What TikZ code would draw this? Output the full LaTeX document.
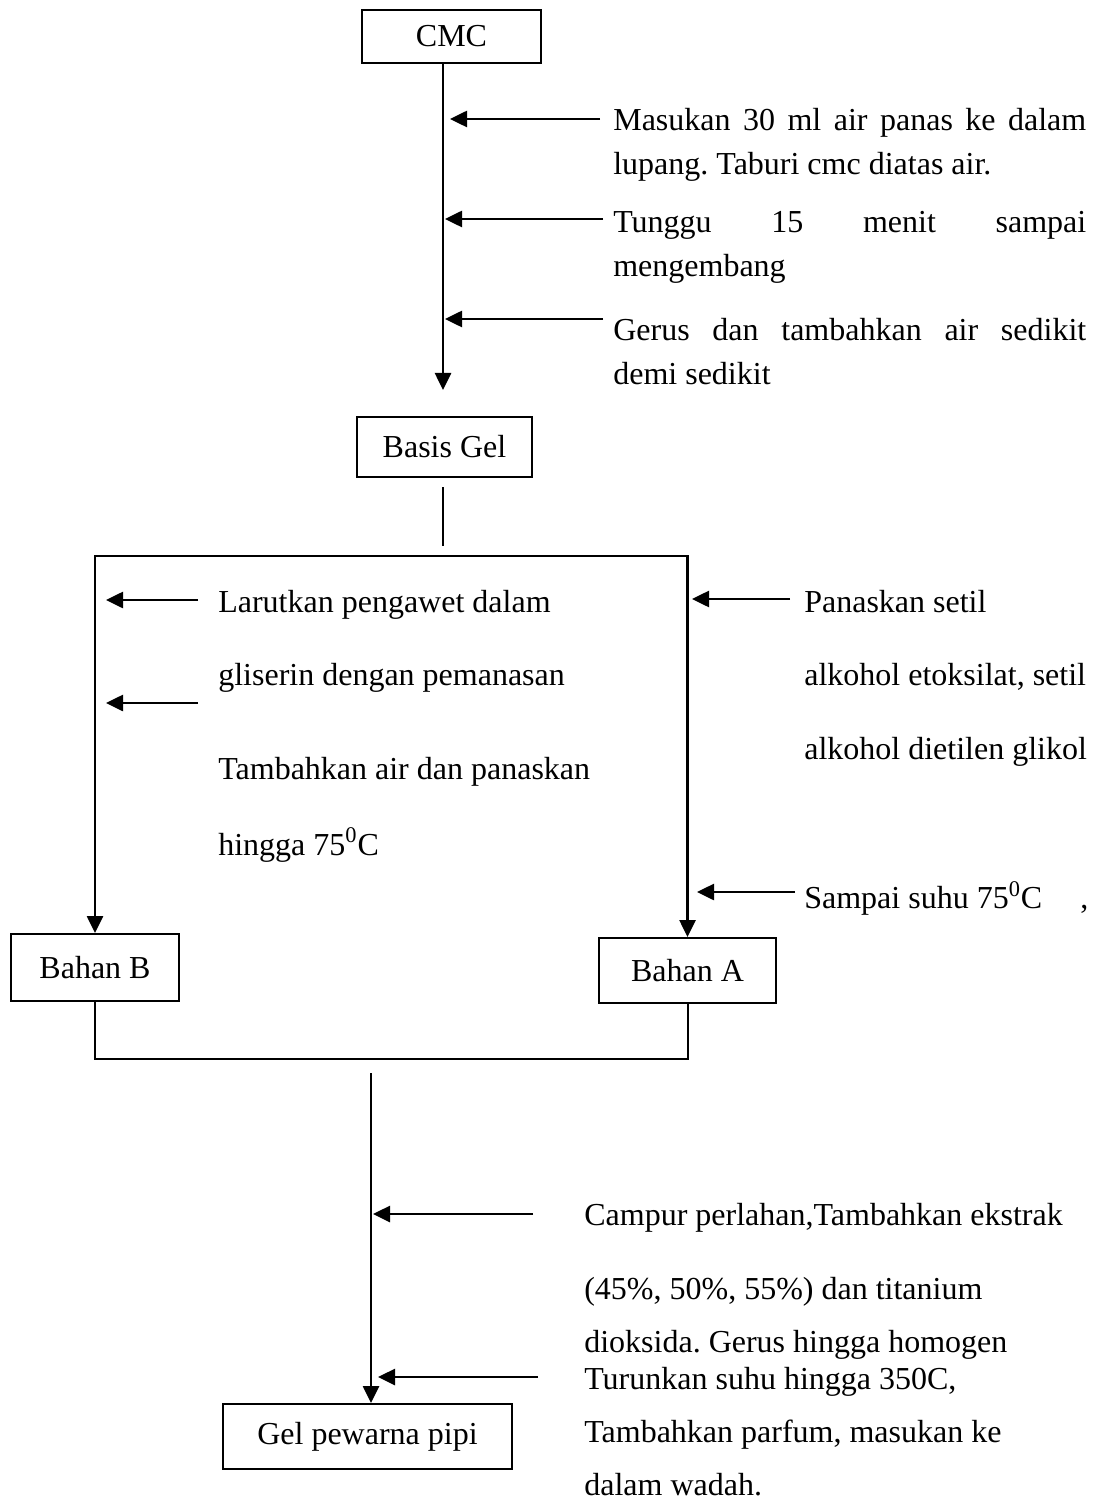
\documentclass[tikz,border=0pt]{standalone}
\usepackage{fontspec}
\setmainfont{Liberation Serif}
\usetikzlibrary{arrows.meta}
\frenchspacing

\begin{document}
\begin{tikzpicture}[x=0.5pt, y=-0.5pt, line width=1.3pt,
  box/.style={draw, line width=1pt, inner sep=0pt, font=\fontsize{16}{19}\selectfont},
  note/.style={anchor=north west, inner sep=0pt, align=left, font=\fontsize{16}{36.5}\selectfont},
  para/.style={note, text width=236.5pt, align=justify, font=\fontsize{16}{22}\selectfont},
  flow/.style={-{Triangle[length=8.5pt, width=8pt]}},
  flowboth/.style={{Triangle[length=8.5pt, width=8pt]}-{Triangle[length=8.5pt, width=8pt]}},
  link/.style={line width=1pt}]
\useasboundingbox (0,0) rectangle (1094,1502);

\node[box, minimum width=89.5pt, minimum height=26.5pt] (cmc) at (451.5,36.5) {CMC};
\node[box, minimum width=87.5pt, minimum height=30pt] (basis) at (444.5,447) {Basis Gel};
\node[box, minimum width=84pt, minimum height=33.5pt] (bahanb) at (95,967.5) {Bahan B};
\node[box, minimum width=88.5pt, minimum height=32.5pt] (bahana) at (687.5,970.5) {Bahan A};
\node[box, minimum width=144.5pt, minimum height=32.5pt] (gel) at (367.5,1436.5) {Gel pewarna pipi};

\node[para] (masuk) at (612,107.5) {Masukan 30 ml air panas ke dalam\linebreak lupang. Taburi cmc diatas air.};
\node[para] (tunggu) at (612,210) {Tunggu 15 menit sampai\linebreak mengembang};
\node[para] (gerus) at (612,317) {Gerus dan tambahkan air sedikit\linebreak demi sedikit};

\node[note] (larut) at (217,588.5) {Larutkan pengawet dalam\\gliserin dengan pemanasan};
\node[note, font=\fontsize{16}{38}\selectfont] (tambah) at (217,755.5) {Tambahkan air dan panaskan\\hingga 75\textsuperscript{0}C};
\node[note, font=\fontsize{16}{36.75}\selectfont] (panas) at (803,588.5) {Panaskan setil\\alkohol etoksilat, setil\\alkohol dietilen glikol};
\node[note] (sampai) at (803,880) {Sampai suhu 75\textsuperscript{0}C\hspace{15pt} ,};

\node[note, font=\fontsize{16}{26.5}\selectfont] (campur) at (583,1201.5) {Campur perlahan,Tambahkan ekstrak\\[10.5pt](45\%, 50\%, 55\%) dan titanium\\dioksida. Gerus hingga homogen};
\node[note, font=\fontsize{16}{26.5}\selectfont] (turun) at (583,1365.5) {Turunkan suhu hingga 350C,\\Tambahkan parfum, masukan ke\\dalam wadah.};

\coordinate (m1) at (443,390);
\coordinate (a1s) at (600,119);
\coordinate (a1e) at (450,119);
\coordinate (a2s) at (603,219);
\coordinate (a2e) at (445,219);
\coordinate (a3s) at (603,319);
\coordinate (a3e) at (445,319);

\draw[flow] (cmc.south -| m1) -- (m1);
\draw[flow] (a1s) -- (a1e);
\draw[flow] (a2s) -- (a2e);
\draw[flow] (a3s) -- (a3e);

\coordinate (j1) at (443,487);
\coordinate (j2) at (443,546);
\coordinate (top) at (443,556);
\draw (j1) -- (j2);
\draw[flowboth] (bahanb.north) |- (top) -| (bahana.north);

\coordinate (b1s) at (198,600);
\coordinate (b1e) at (106,600);
\coordinate (b2s) at (198,703);
\coordinate (b2e) at (106,703);
\coordinate (c1s) at (790,599);
\coordinate (c1e) at (692,599);
\coordinate (c2s) at (795,892);
\coordinate (c2e) at (697,892);

\draw[flow] (b1s) -- (b1e);
\draw[flow] (b2s) -- (b2e);
\draw[flow] (c1s) -- (c1e);
\draw[flow] (c2s) -- (c2e);

\coordinate (bot) at (443,1059);
\coordinate (j3) at (371,1073);
\draw[link] (bahanb.south) |- (bot) -| (bahana.south);
\draw[flow] (j3) -- (j3 |- gel.north);

\coordinate (d1s) at (533,1214);
\coordinate (d1e) at (373,1214);
\coordinate (d2s) at (538,1377);
\coordinate (d2e) at (378,1377);

\draw[flow] (d1s) -- (d1e);
\draw[flow] (d2s) -- (d2e);

\end{tikzpicture}
\end{document}
